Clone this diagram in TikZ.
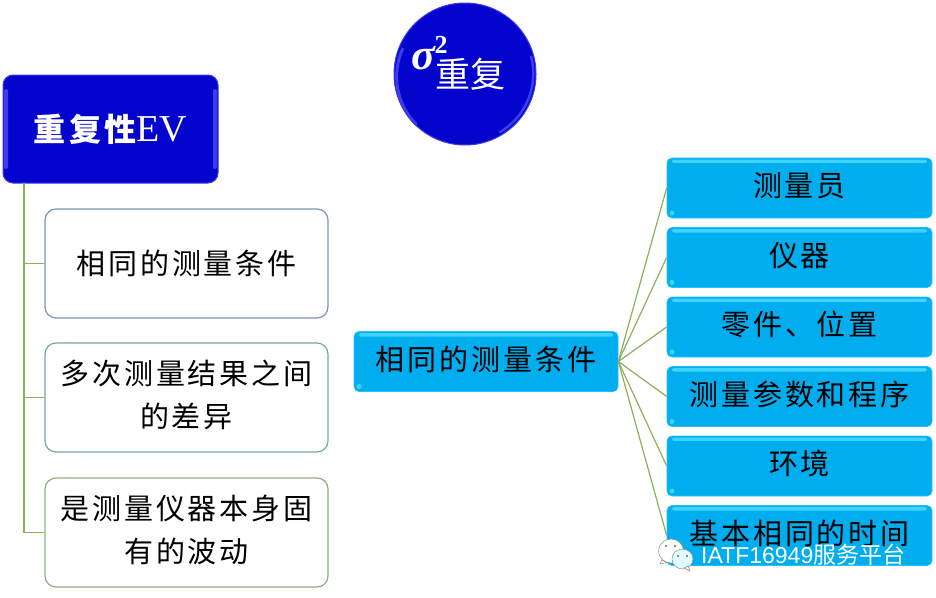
\documentclass[tikz,border=0pt]{standalone}
\usepackage{fontspec}
\setmainfont{Liberation Serif}
\newfontfamily\cjk[LetterSpace=10]{Noto Sans CJK SC}
\newfontfamily\cjkplain{Noto Sans CJK SC}
\newfontfamily\wmfont{Liberation Sans}
\usetikzlibrary{calc,shapes.geometric}
\definecolor{navy}{HTML}{0404CC}
\definecolor{navyedge}{HTML}{3A3AE8}
\definecolor{navyrim}{HTML}{3C3CEC}
\definecolor{sky}{HTML}{00AEEF}
\definecolor{skyedge}{HTML}{22C4F8}
\definecolor{skylight}{HTML}{3FD4FF}
\definecolor{linkgreen}{HTML}{8CB15A}
\definecolor{edgeA}{HTML}{7F93BD}
\definecolor{edgeB}{HTML}{6FA9A6}
\definecolor{edgeC}{HTML}{8FAE80}
\newcommand{\lifted}[1]{\raisebox{2.5pt}{\begin{tabular}{@{}c@{}}#1\end{tabular}}}
\tikzset{
  x=1pt,y=-1pt,
  darkbox/.style={draw=navyedge,line width=1pt,fill=navy,rounded corners=10pt,minimum width=215pt,minimum height=108pt,inner sep=0pt,text=white,align=center,
    font=\fontsize{32}{38}\selectfont\bfseries\cjk,
    path picture={
      \fill[navyrim,rounded corners=2pt] ([shift={(1pt,-14pt)}]path picture bounding box.north west) rectangle ([shift={(5pt,14pt)}]path picture bounding box.south west);
      \fill[navyrim,rounded corners=2pt] ([shift={(-5pt,-14pt)}]path picture bounding box.north east) rectangle ([shift={(-1pt,14pt)}]path picture bounding box.south east);
    }},
  lightbox/.style={fill=white,line width=1.2pt,rounded corners=11pt,minimum width=283pt,minimum height=109pt,inner sep=0pt,align=center,text width=275pt,
    font=\fontsize{29}{43}\selectfont\cjk},
  skybox/.style={draw=skyedge,line width=.7pt,fill=sky,rounded corners=5pt,minimum height=60pt,inner sep=0pt,align=center,text=black,
    text height=24pt,text depth=7pt,
    font=\fontsize{29}{32}\selectfont\cjk,
    path picture={
      \fill[skylight,rounded corners=2pt] ([shift={(5pt,-1.5pt)}]path picture bounding box.north west) rectangle ([shift={(-5pt,-5pt)}]path picture bounding box.north east);
      \fill[skylight] ([shift={(5pt,5pt)}]path picture bounding box.south west) circle (2.5pt);
    }},
  rightbox/.style={skybox,minimum width=265pt},
  link/.style={draw=linkgreen,line width=1.2pt},
}
\begin{document}
\begin{tikzpicture}
\useasboundingbox (0,0) rectangle (936,597);
% circle
\node[circle,fill=navy,draw=navyedge,line width=1pt,minimum size=142pt,inner sep=0pt] (disc) at (465,74) {};
\draw[navyrim,line width=3pt] (403,48) arc[start angle=155,end angle=225,radius=68pt];
\draw[navyrim,line width=2.5pt] (531,56) arc[start angle=15,end angle=-60,radius=68pt];
\node[text=white,inner sep=0pt] (rep) at (470,74) {\fontsize{35}{40}\selectfont\cjkplain 重复};
\node[text=white,inner sep=0pt] (sig) at (423,58) {\fontsize{44}{46}\selectfont\bfseries\itshape σ};
\node[text=white,inner sep=0pt] (sq) at (441,45) {\fontsize{26}{28}\selectfont\bfseries 2};
% left column
\node[darkbox] (top) at (110.5,129) {重复性\fontsize{38}{38}\mdseries\rmfamily\selectfont EV};
\node[lightbox,draw=edgeA] (w1) at (186.5,263.5) {相同的测量条件};
\node[lightbox,draw=edgeB] (w2) at (186.5,397.5) {\lifted{多次测量结果之间\\的差异}};
\node[lightbox,draw=edgeC] (w3) at (186.5,532.5) {\lifted{是测量仪器本身固\\有的波动}};
\coordinate (trunk) at (24,183);
\draw[link] (trunk) |- (w1.west);
\draw[link] (trunk) |- (w2.west);
\draw[link] (trunk) |- (w3.west);
% centre and right column
\node[skybox,minimum width=264pt] (c) at (486,361.5) {相同的测量条件};
\node[rightbox] (r1) at (799.5,188) {测量员};
\node[rightbox] (r2) at (799.5,257.5) {仪器};
\node[rightbox] (r3) at (799.5,327) {零件、位置};
\node[rightbox] (r4) at (799.5,396.5) {测量参数和程序};
\node[rightbox] (r5) at (799.5,466) {环境};
\node[rightbox] (r6) at (799.5,535.5) {基本相同的时间};
\foreach \n in {r1,r2,r3,r4,r5,r6} \draw[link] (c.east) -- (\n.west);
% watermark
\begin{scope}[fill=white,draw=black!45,line width=.5pt]
\filldraw[fill=white] (671,551) ellipse[x radius=12.5pt,y radius=12pt];
\filldraw[fill=white] (662,560) -- (660,564) -- (667,562.5) -- cycle;
\filldraw[fill=blue!6!cyan!12] (682.5,559) ellipse[x radius=10.5pt,y radius=10pt];
\filldraw[fill=blue!6!cyan!12] (684,568) -- (690,571) -- (688,566) -- cycle;
\end{scope}
\fill[black!60] (666,546) circle (1.2pt) (675,546) circle (1.2pt) (678,556) circle (1.2pt) (687,556) circle (1.2pt);
\node[text=white,inner sep=0pt,anchor=west] (wm) at (701,555) {\fontsize{23}{26}\selectfont\wmfont IATF16949\cjkplain 服务平台};
\end{tikzpicture}
\end{document}
